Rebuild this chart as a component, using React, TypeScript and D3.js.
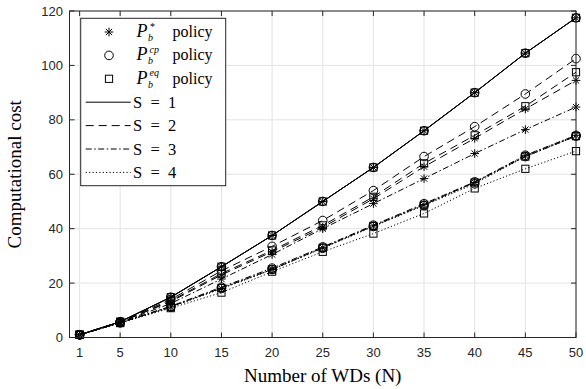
import * as d3 from "d3";

const nValues = [1, 5, 10, 15, 20, 25, 30, 35, 40, 45, 50];
const yTickValues = [0, 20, 40, 60, 80, 100, 120];

// S = 1 (all three policies land on the same curve)
const starS1 = [1, 5.8, 14.8, 26, 37.5, 50, 62.5, 76, 90, 104.5, 117.5];
const circleS1 = [1, 5.8, 14.8, 26, 37.5, 50, 62.5, 76, 90, 104.5, 117.5];
const squareS1 = [1, 5.8, 14.8, 26, 37.5, 50, 62.5, 76, 90, 104.5, 117.5];
// S = 2
const starS2 = [1, 5.6, 13.2, 23, 31.5, 40.5, 51, 62.8, 73.2, 84, 94.5];
const circleS2 = [1, 5.8, 14, 24.5, 33.5, 43, 54, 66.5, 77.5, 89.5, 102.5];
const squareS2 = [1, 5.7, 13.5, 23.5, 32, 41.2, 51.7, 64, 74.3, 85, 97.5];
// S = 3
const starS3 = [1, 5.5, 12.5, 21.5, 30.5, 40, 49.2, 58.4, 67.6, 76.4, 84.7];
const circleS3 = [1, 5.5, 11.5, 18.5, 25.5, 33.3, 41.3, 49.2, 57.2, 67, 74.3];
const squareS3 = [1, 5.4, 11.3, 18.2, 25, 33, 41, 48.8, 57, 66.5, 74];
// S = 4
const starS4 = [1, 5.4, 11.2, 18, 25, 33, 41, 48.8, 57, 66.8, 74.3];
const circleS4 = [1, 5.4, 11.2, 18, 25, 32.8, 40.8, 48.5, 56.5, 66.5, 74];
const squareS4 = [1, 5.3, 10.8, 16.5, 24.2, 31.5, 38.2, 45.6, 54.8, 62, 68.5];

const dashes = ["none", "8,5", "6,2.5,1.5,2.5", "1.2,2.2"];
const sLabels = ["S = 1", "S = 2", "S = 3", "S = 4"];
const policies = [
  { marker: "star", sup: "*", data: [starS1, starS2, starS3, starS4] },
  { marker: "circle", sup: "cp", data: [circleS1, circleS2, circleS3, circleS4] },
  { marker: "square", sup: "eq", data: [squareS1, squareS2, squareS3, squareS4] },
];

const W = 586;
const H = 389;
const x = d3.scaleLinear().domain([0, 50]).range([69.5, 576]);
const y = d3.scaleLinear().domain([0, 120]).range([337.5, 11]);
const axisColor = "#262626";
const gridColor = "#e3e3e3";
const tickLen = 5;
const serif = "Liberation Serif, serif";

function Marker({ type, cx, cy }: { type: string; cx: number; cy: number }) {
  if (type === "circle")
    return <circle cx={cx} cy={cy} r={4.3} fill="none" stroke="#000" strokeWidth={1} />;
  if (type === "square")
    return <rect x={cx - 3.6} y={cy - 3.6} width={7.2} height={7.2} fill="none" stroke="#000" strokeWidth={1} />;
  const r = 4.3;
  const k = r * 0.72;
  const p = d3.path();
  p.moveTo(cx - r, cy); p.lineTo(cx + r, cy);
  p.moveTo(cx, cy - r); p.lineTo(cx, cy + r);
  p.moveTo(cx - k, cy - k); p.lineTo(cx + k, cy + k);
  p.moveTo(cx - k, cy + k); p.lineTo(cx + k, cy - k);
  return <path d={p.toString()} stroke="#000" strokeWidth={1} fill="none" />;
}

export default function App() {
  const [x0, x1] = x.range();
  const [y0, y1] = y.range();
  const line = d3
    .line<number>()
    .x((_, i) => x(nValues[i]))
    .y((d) => y(d));

  const legendRow = (i: number) => 32 + i * 23.4;

  return (
    <svg width={W} height={H} style={{ position: "absolute", left: 0, top: 0, background: "#fff" }}>
      <rect width={W} height={H} fill="#fff" />
      {/* grid */}
      {nValues.map((n) => (
        <line key={"gx" + n} x1={x(n)} x2={x(n)} y1={y1} y2={y0} stroke={gridColor} strokeWidth={1} />
      ))}
      {yTickValues.map((v) => (
        <line key={"gy" + v} x1={x0} x2={x1} y1={y(v)} y2={y(v)} stroke={gridColor} strokeWidth={1} />
      ))}

      {/* series lines */}
      {policies.map((p) =>
        p.data.map((vals, si) => (
          <path
            key={p.marker + si}
            d={line(vals) ?? ""}
            fill="none"
            stroke="#000"
            strokeWidth={1}
            strokeDasharray={dashes[si]}
          />
        ))
      )}
      {/* markers */}
      {policies.map((p) =>
        p.data.map((vals, si) =>
          vals.map((v, i) => (
            <Marker key={p.marker + si + "-" + i} type={p.marker} cx={x(nValues[i])} cy={y(v)} />
          ))
        )
      )}

      {/* axes box and ticks */}
      <rect x={x0} y={y1} width={x1 - x0} height={y0 - y1} fill="none" stroke={axisColor} strokeWidth={1} />
      {nValues.map((n) => (
        <g key={"tx" + n}>
          <line x1={x(n)} x2={x(n)} y1={y0} y2={y0 - tickLen} stroke={axisColor} />
          <line x1={x(n)} x2={x(n)} y1={y1} y2={y1 + tickLen} stroke={axisColor} />
          <text x={x(n)} y={357} textAnchor="middle" fontFamily="Liberation Sans, Arial, sans-serif" fontSize={13} fill={axisColor}>
            {n}
          </text>
        </g>
      ))}
      {yTickValues.map((v) => (
        <g key={"ty" + v}>
          <line x1={x0} x2={x0 + tickLen} y1={y(v)} y2={y(v)} stroke={axisColor} />
          <line x1={x1} x2={x1 - tickLen} y1={y(v)} y2={y(v)} stroke={axisColor} />
          <text x={63} y={y(v) + 4.5} textAnchor="end" fontFamily="Liberation Sans, Arial, sans-serif" fontSize={13} fill={axisColor}>
            {v}
          </text>
        </g>
      ))}

      {/* axis labels */}
      <text x={(x0 + x1) / 2} y={382} textAnchor="middle" fontFamily={serif} fontSize={19} fill="#000">
        Number of WDs (N)
      </text>
      <text
        transform={`translate(21,${(y0 + y1) / 2}) rotate(-90)`}
        textAnchor="middle"
        fontFamily={serif}
        fontSize={19}
        fill="#000"
      >
        Computational cost
      </text>

      {/* legend */}
      <g>
        <rect x={80.7} y={18.3} width={145} height={167.4} fill="#fff" stroke={axisColor} strokeWidth={1} />
        {policies.map((p, i) => {
          const ry = legendRow(i);
          return (
            <g key={"lp" + i}>
              <Marker type={p.marker} cx={109} cy={ry} />
              <text x={136.5} y={ry + 5} fontFamily={serif} fontStyle="italic" fontSize={18} fill="#000">P</text>
              <text x={148} y={ry + 9} fontFamily={serif} fontStyle="italic" fontSize={10} fill="#000">b</text>
              <text x={149.5} y={ry - 2.5} fontFamily={serif} fontStyle="italic" fontSize={10} fill="#000">{p.sup}</text>
              <text x={172.5} y={ry + 5} fontFamily={serif} fontSize={16} fill="#000">policy</text>
            </g>
          );
        })}
        {sLabels.map((s, i) => (
          <g key={"ls" + i}>
            <line
              x1={85.7}
              x2={130.7}
              y1={legendRow(i + 3)}
              y2={legendRow(i + 3)}
              stroke="#000"
              strokeWidth={1}
              strokeDasharray={dashes[i]}
            />
            <text x={133} y={legendRow(i + 3) + 5.5} fontFamily={serif} fontSize={16.5} fill="#000">
              {s.replace(/ = /, "\u2002=\u2002")}
            </text>
          </g>
        ))}
      </g>
    </svg>
  );
}
